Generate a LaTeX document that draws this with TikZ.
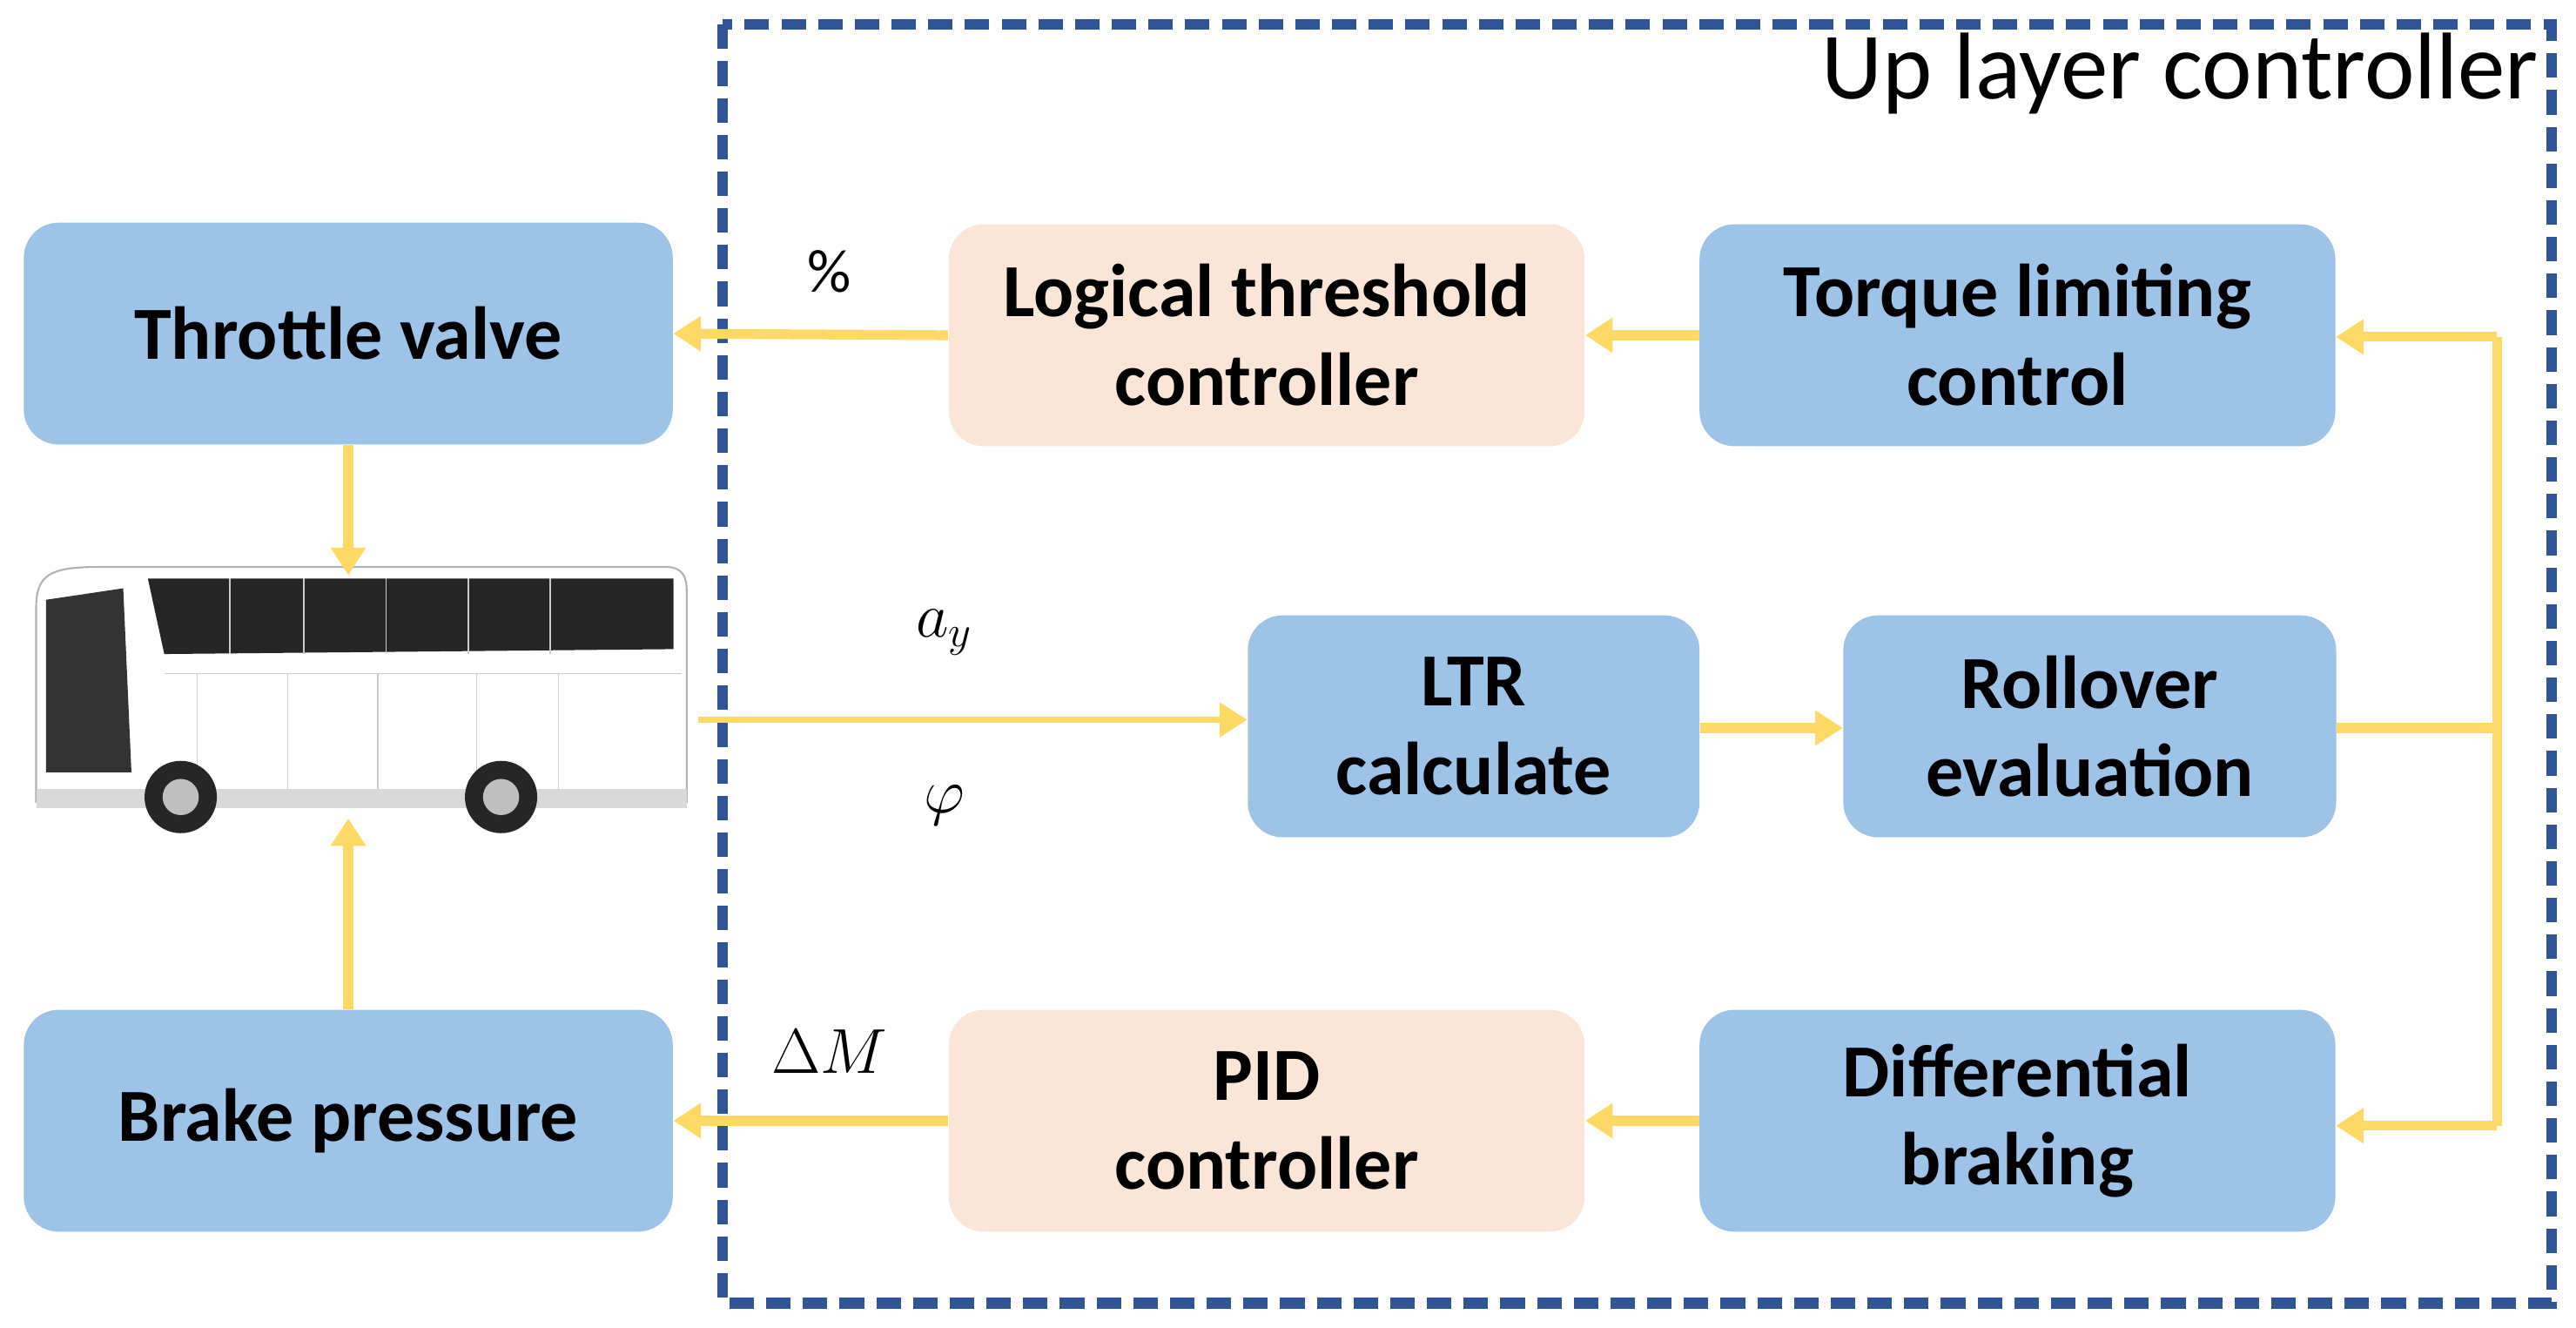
\documentclass[tikz,border=0pt]{standalone}
\usepackage{fontspec}
\setmainfont{Carlito}
\usetikzlibrary{arrows.meta}
\definecolor{bblue}{HTML}{9DC3E6}
\definecolor{bpeach}{HTML}{FBE5D6}
\definecolor{ayel}{HTML}{FFD966}
\definecolor{dblue}{HTML}{2F5597}
\begin{document}
\begin{tikzpicture}[x=0.018871cm,y=-0.018871cm,
 blk/.style={rounded corners=0.4cm,draw=none,minimum height=135*0.018871cm,align=center,font=\fontsize{24.5}{29}\selectfont\bfseries},
 bl/.style={blk,fill=bblue}, pe/.style={blk,fill=bpeach},
 ar/.style={draw=ayel,line width=3.2pt,-{Triangle[length=9pt,width=11pt]}},
 ln/.style={draw=ayel,line width=3.2pt},
 lab/.style={font=\fontsize{20}{22}\selectfont}]
\useasboundingbox (0,0) rectangle (1568,808);
\draw[dblue,line width=3.5pt,dash pattern=on 8pt off 4pt] (440,15) rectangle (1553,793);
\node[font=\fontsize{31}{34}\selectfont] (title) at (1327,45) {Up layer controller};
\node[bl,minimum width=395*0.018871cm] (thr) at (212,203) {Throttle valve};
\node[pe,minimum width=387*0.018871cm] (log) at (771,204) {Logical threshold\\controller};
\node[bl,minimum width=387*0.018871cm] (tor) at (1228,204) {Torque limiting\\control};
\node[bl,minimum width=275*0.018871cm] (ltr) at (897,442) {LTR\\calculate};
\node[bl,minimum width=300*0.018871cm] (rol) at (1272,442) {Rollover\\evaluation};
\node[bl,minimum width=395*0.018871cm] (brk) at (212,682) {Brake pressure};
\node[pe,minimum width=387*0.018871cm] (pid) at (771,682) {PID\\controller};
\node[bl,minimum width=387*0.018871cm] (dif) at (1228,682) {Differential\\braking};
% bus
\begin{scope}
\draw[gray!60,fill=white,line width=0.6pt] (22,370) .. controls (22,350) and (30,345) .. (60,345) -- (405,345) .. controls (415,345) and (418,350) .. (418,360) -- (418,488) -- (22,488) -- cycle;
\fill[black!85] (90,352) -- (410,352) -- (410,395) -- (100,398) -- cycle;
\fill[black!80] (28,365) -- (75,358) -- (80,470) -- (28,470) -- cycle;
\foreach \x in {140,185,235,285,335} \draw[gray!40] (\x,352) -- (\x,398);
\draw[gray!40] (100,410) -- (415,410);
\foreach \x in {120,175,230,290,340} \draw[gray!40] (\x,410) -- (\x,480);
\fill[gray!30] (22,480) rectangle (418,492);
\foreach \x in {110,305} {\fill[black!85] (\x,485) circle (22); \fill[gray!50] (\x,485) circle (11);}
\end{scope}
\node[lab] (pc) at (505,165) {\%};
\node[lab] (ay) at (575,385) {$a_y$};
\node[lab] (phi) at (575,490) {$\varphi$};
\node[lab] (dm) at (505,640) {$\Delta M$};
\coordinate (bo) at (425,438);
\coordinate (jt) at (1520,205);
\coordinate (jb) at (1520,685);
\coordinate (jm) at (1520,443);
\draw[ar] (tor.west) -- (log.east);
\draw[ar] (log.west) -- (thr.east);
\draw[ar] (thr.south) -- (212,350);
\draw[ar] (brk.north) -- (212,498);
\draw[draw=ayel,line width=1.8pt,-{Triangle[length=9pt,width=11pt]}] (bo) -- (ltr.west|-bo);
\draw[ar] (ltr.east|-jm) -- (rol.west|-jm);
\draw[ln] (rol.east|-jm) -- (jm);
\draw[ln] (jt) -- (jb);
\draw[ar] (jt) -- (tor.east|-jt);
\draw[ar] (jb) -- (dif.east|-jb);
\draw[ar] (dif.west) -- (pid.east);
\draw[ar] (pid.west) -- (brk.east);
\end{tikzpicture}
\end{document}
